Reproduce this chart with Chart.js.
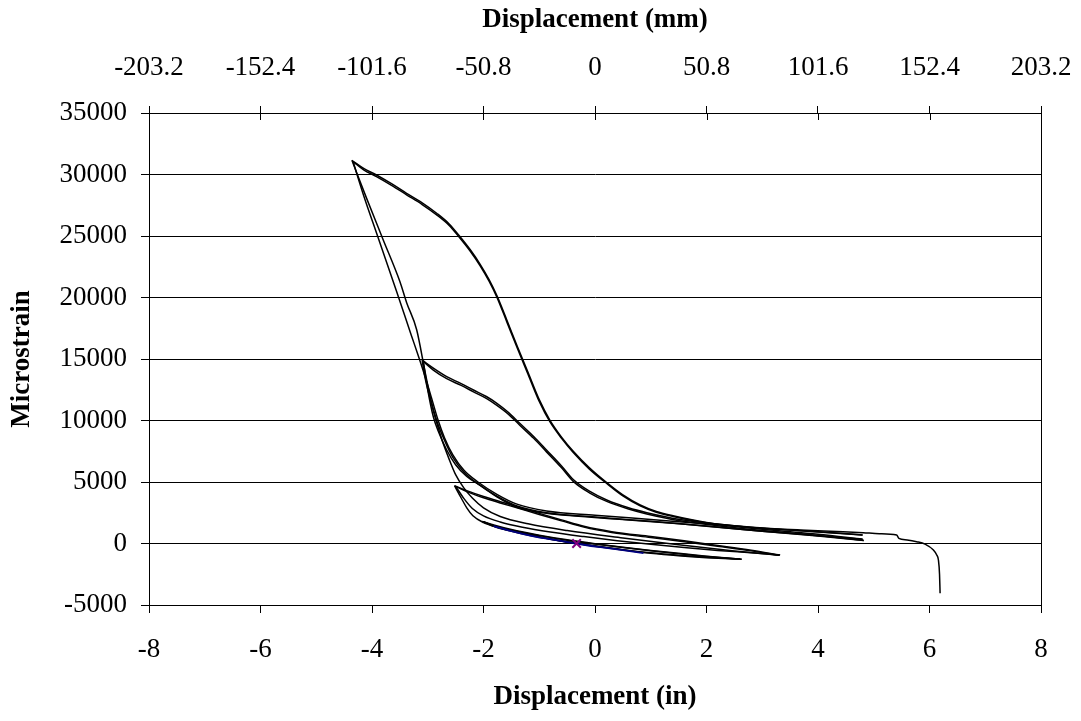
<!DOCTYPE html>
<html>
<head>
<meta charset="utf-8">
<title>Microstrain vs displacement</title>
<script src="https://cdn.jsdelivr.net/npm/chart.js@4"></script>
<style>
  html, body { margin: 0; padding: 0; background: #fff; }
  canvas { display: block; }
</style>
</head>
<body>
<canvas id="hysteresis" width="1081" height="721"></canvas>
<script>
// tick labels
const inchTicks = [-8, -6, -4, -2, 0, 2, 4, 6, 8];
const mmTicks = [-203.2, -152.4, -101.6, -50.8, 0, 50.8, 101.6, 152.4, 203.2];
const strainTicks = [-5000, 0, 5000, 10000, 15000, 20000, 25000, 30000, 35000];

// small cycles (about +/- 2 in)
const cycleA1X = [-0.33, -0.8, -1.35, -1.82, -2.02, -1.8, -1.5, -1.0, -0.5, 0.0, 0.5, 1.0, 1.5, 2.0, 2.63];
const cycleA1Y = [0, 350, 830, 1450, 1800, 1480, 1130, 680, 300, -20, -300, -560, -800, -1030, -1290];
const cycleA2X = [2.63, 2.0, 1.5, 1.0, 0.5, 0.0, -0.5, -1.0, -1.4, -1.76, -2.0, -1.8, -1.5, -1.0, -0.5, 0.0, 0.5, 1.0, 1.5, 2.0, 2.6];
const cycleA2Y = [-1290, -1150, -1000, -800, -530, -220, 120, 520, 950, 1300, 1750, 1420, 1080, 640, 260, -50, -330, -590, -830, -1060, -1260];

// medium cycles (to -2.5 in)
const cycleB1X = [2.6, 2.0, 1.5, 1.0, 0.5, 0.0, -0.5, -1.0, -1.4, -1.76, -2.0, -2.19, -2.3, -2.4, -2.52, -2.3, -2.0, -1.7, -1.4, -1.0, -0.6, -0.2, 0.3, 1.0, 1.6, 2.2, 2.8, 3.32];
const cycleB1Y = [-1260, -1120, -960, -760, -500, -190, 150, 560, 980, 1330, 1700, 2250, 2900, 3700, 4700, 4300, 3820, 3400, 3000, 2450, 1920, 1400, 960, 560, 220, -160, -550, -940];
const cycleB2X = [3.32, 2.8, 2.2, 1.6, 1.0, 0.4, -0.2, -0.8, -1.3, -1.7, -2.0, -2.2, -2.35, -2.5, -2.3, -2.0, -1.7, -1.4, -1.0, -0.6, -0.2, 0.3, 1.0, 1.6, 2.2, 2.8, 3.3];
const cycleB2Y = [-940, -760, -560, -330, -60, 230, 560, 930, 1320, 1750, 2250, 2850, 3650, 4650, 4220, 3720, 3300, 2900, 2360, 1840, 1330, 890, 480, 140, -230, -600, -960];

// cycles to -3.1 in
const cycleC1X = [3.3, 2.5, 1.5, 0.5, -0.5, -1.2, -1.7, -2.0, -2.2, -2.35, -2.5, -2.62, -2.75, -2.87, -2.97, -3.05, -3.1, -2.9, -2.66, -2.4, -2.18, -1.95, -1.76, -1.55, -1.35, -1.1, -0.87, -0.6, -0.39, -0.1, 0.21, 0.6, 0.93, 1.52, 2.2, 3.0, 4.0, 4.8];
const cycleC1Y = [-960, -600, -100, 450, 1050, 1600, 2200, 2900, 3700, 4500, 5600, 6900, 8500, 10300, 12000, 13500, 14900, 14250, 13560, 13000, 12480, 11950, 11400, 10650, 9770, 8700, 7600, 6300, 5200, 4250, 3540, 2900, 2500, 1950, 1550, 1150, 750, 350];
const cycleC2X = [4.8, 4.0, 3.0, 2.0, 1.52, 0.5, -0.4, -0.87, -1.4, -1.76, -2.05, -2.3, -2.5, -2.66, -2.8, -2.9, -3.0, -3.08, -2.9, -2.66, -2.4, -2.18, -1.95, -1.76, -1.55, -1.35, -1.1, -0.87, -0.6, -0.39, -0.1, 0.21, 0.6, 0.93, 1.52, 2.2, 3.0, 4.0, 4.82];
const cycleC2Y = [350, 640, 1000, 1400, 1600, 1950, 2250, 2450, 2950, 3800, 4700, 5450, 6400, 7600, 9000, 10300, 12500, 14800, 14100, 13400, 12850, 12330, 11800, 11230, 10500, 9620, 8550, 7450, 6150, 5050, 4120, 3420, 2800, 2400, 1850, 1450, 1050, 650, 250];

// largest cycles (to -4.35 in), last one runs out to 6.2 in
const cycleD1X = [4.82, 4.0, 3.0, 2.0, 1.0, 0.0, -0.87, -1.4, -1.76, -2.1, -2.35, -2.55, -2.7, -2.84, -2.95, -3.05, -3.2, -3.38, -3.5, -3.8, -4.1, -4.36, -4.15, -3.92, -3.65, -3.38, -3.1, -2.84, -2.62, -2.42, -2.24, -2.06, -1.9, -1.76, -1.58, -1.4, -1.2, -1.0, -0.81, -0.6, -0.39, -0.1, 0.21, 0.5, 0.81, 1.1, 1.4, 2.0, 2.8, 3.8, 4.8];
const cycleD1Y = [250, 600, 1000, 1420, 1800, 2150, 2500, 3050, 3850, 4850, 5800, 7000, 8400, 10000, 11800, 14000, 17400, 19600, 21300, 24700, 28100, 31150, 30500, 29960, 29250, 28470, 27700, 26850, 26000, 24940, 23900, 22700, 21450, 20150, 18150, 16100, 13900, 11700, 10040, 8650, 7500, 6150, 4950, 3950, 3130, 2600, 2250, 1700, 1300, 1000, 700];
const cycleD2X = [4.8, 4.0, 3.0, 2.0, 1.0, 0.0, -0.87, -1.4, -1.76, -2.1, -2.35, -2.55, -2.7, -2.82, -2.93, -3.05, -3.15, -3.3, -3.56, -3.9, -4.15, -4.34, -4.15, -3.92, -3.65, -3.38, -3.1, -2.84, -2.62, -2.42, -2.24, -2.06, -1.9, -1.76, -1.58, -1.4, -1.2, -1.0, -0.81, -0.6, -0.39, -0.1, 0.21, 0.5, 0.81, 1.1, 1.4, 2.0, 2.8, 3.68, 4.45, 4.81, 5.1, 5.41, 5.45, 5.6, 5.77, 5.92, 6.07, 6.13, 6.16, 6.18, 6.19];
const cycleD2Y = [700, 950, 1250, 1600, 1950, 2300, 2650, 3200, 4000, 5000, 5950, 7200, 8600, 10100, 11800, 13600, 15000, 17000, 20500, 25000, 28300, 31050, 30380, 29830, 29120, 28350, 27560, 26720, 25880, 24820, 23780, 22580, 21330, 20030, 18000, 15950, 13750, 11550, 9900, 8550, 7400, 6050, 4880, 3870, 3060, 2540, 2200, 1680, 1330, 1100, 960, 880, 800, 690, 420, 290, 150, -50, -530, -935, -1340, -2500, -4050];

// first elastic cycle (blue) and start marker
const elasticX = [-1.82, -1.5, -1.1, -0.7, -0.33, 0.1, 0.5, 0.87];
const elasticY = [1420, 1000, 580, 270, -20, -300, -540, -780];
const startX = [-0.33];
const startY = [0];

const cyclesX = [cycleA1X, cycleA2X, cycleB1X, cycleB2X, cycleC1X, cycleC2X, cycleD1X, cycleD2X];
const cyclesY = [cycleA1Y, cycleA2Y, cycleB1Y, cycleB2Y, cycleC1Y, cycleC2Y, cycleD1Y, cycleD2Y];

// cut a cycle where the displacement changes direction, so every branch is monotone in x
function splitBranches(xs, ys) {
	const out = [];
	let seg = [{ x: xs[0], y: ys[0] }];
	let dir = 0;
	for (let i = 1; i < xs.length; i++) {
		const d = Math.sign(xs[i] - xs[i - 1]);
		if (dir !== 0 && d !== dir) {
			out.push(seg);
			seg = [{ x: xs[i - 1], y: ys[i - 1] }];
		}
		dir = d;
		seg.push({ x: xs[i], y: ys[i] });
	}
	out.push(seg);
	return out;
}

const toPoints = (xs, ys) => xs.map((x, i) => ({ x: x, y: ys[i] }));

const datasets = [
	{
		data: toPoints(startX, startY),
		showLine: false,
		pointStyle: "crossRot",
		pointRadius: 6,
		borderColor: "#800080",
		borderWidth: 2,
	},
	{
		data: toPoints(elasticX, elasticY),
		showLine: true,
		borderColor: "#000080",
		borderWidth: 1.8,
		pointRadius: 0,
		cubicInterpolationMode: "monotone",
	},
];

cyclesX.forEach((xs, c) => {
	splitBranches(xs, cyclesY[c]).forEach((seg) => {
		datasets.push({
			data: seg,
			showLine: true,
			borderColor: "#000",
			borderWidth: 1.5,
			pointRadius: 0,
			cubicInterpolationMode: "monotone",
		});
	});
});

const serif = "'Liberation Serif', 'Times New Roman', serif";
const tickFont = { family: serif, size: 27 };
const titleFont = { family: serif, size: 27, weight: "bold" };

// right edge of the plot box and the inward half of the top ticks
const frame = {
	id: "frame",
	afterDraw(chart) {
		const { ctx, chartArea: a } = chart;
		const top = chart.scales.x2;
		ctx.save();
		ctx.strokeStyle = "#000";
		ctx.lineWidth = 1;
		ctx.beginPath();
		const r = Math.round(a.right) + 0.5;
		ctx.moveTo(r, a.top);
		ctx.lineTo(r, a.bottom);
		top.ticks.forEach((t) => {
			const px = Math.round(top.getPixelForValue(t.value)) + 0.5;
			ctx.moveTo(px, a.top);
			ctx.lineTo(px, a.top + 7);
		});
		ctx.stroke();
		ctx.restore();
	},
};

new Chart(document.getElementById("hysteresis"), {
	type: "scatter",
	data: { datasets: datasets },
	plugins: [frame],
	options: {
		responsive: false,
		animation: false,
		devicePixelRatio: 1,
		layout: { padding: { left: 0, right: 40, top: 0, bottom: 0 } },
		plugins: { legend: { display: false }, tooltip: { enabled: false } },
		scales: {
			x: {
				type: "linear",
				position: "bottom",
				min: -8,
				max: 8,
				afterBuildTicks: (s) => { s.ticks = inchTicks.map((v) => ({ value: v })); },
				afterFit: (s) => { s.height = 116; s.paddingLeft = 0; s.paddingRight = 0; },
				ticks: { font: tickFont, color: "#000", padding: 21, maxRotation: 0, autoSkip: false, callback: (v) => String(v) },
				grid: { drawOnChartArea: false, color: "#000", tickLength: 8 },
				border: { display: true, color: "#000", width: 1 },
				title: { display: true, text: "Displacement (in)", font: titleFont, color: "#000", padding: { top: 0, bottom: 8 } },
			},
			x2: {
				type: "linear",
				position: "top",
				min: -203.2,
				max: 203.2,
				afterBuildTicks: (s) => { s.ticks = mmTicks.map((v) => ({ value: v })); },
				afterFit: (s) => { s.height = 113; s.paddingLeft = 0; s.paddingRight = 0; },
				ticks: { font: tickFont, color: "#000", padding: 22, maxRotation: 0, autoSkip: false, callback: (v) => String(v) },
				grid: { drawOnChartArea: false, color: "#000", tickLength: 7 },
				border: { display: true, color: "#000", width: 1 },
				title: { display: true, text: "Displacement (mm)", font: titleFont, color: "#000", padding: { top: 4, bottom: 0 } },
			},
			y: {
				type: "linear",
				position: "left",
				min: -5000,
				max: 35000,
				afterBuildTicks: (s) => { s.ticks = strainTicks.map((v) => ({ value: v })); },
				afterFit: (s) => { s.width = 149; s.paddingTop = 0; s.paddingBottom = 0; },
				ticks: { font: tickFont, color: "#000", padding: 14, autoSkip: false, callback: (v) => String(v) },
				grid: { color: "#000", lineWidth: 1, tickLength: 8 },
				border: { display: true, color: "#000", width: 1 },
				title: { display: true, text: "Microstrain", font: titleFont, color: "#000", padding: { top: 6, bottom: 0 } },
			},
		},
	},
});
</script>
</body>
</html>
